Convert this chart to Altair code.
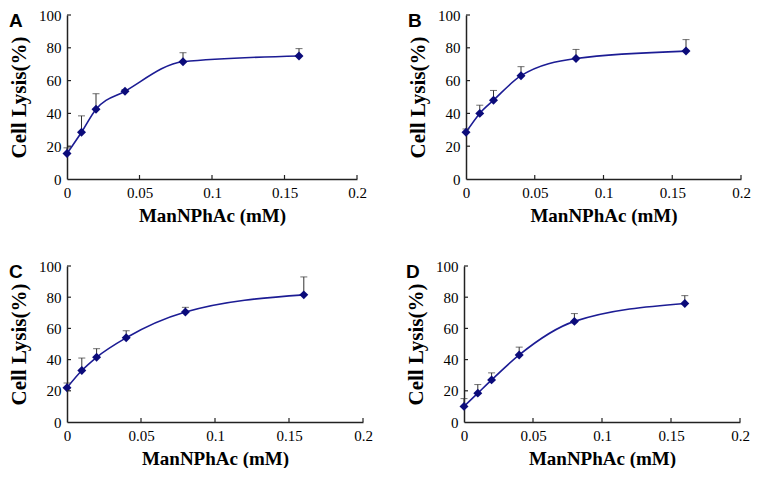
import altair as alt
import pandas as pd

CONC = [0, 0.01, 0.02, 0.04, 0.08, 0.16]

A_Y = [15.5, 28.5, 42.5, 53.5, 71.5, 75.0]
A_SD = [3.5, 10.0, 9.5, 1.0, 5.5, 4.5]
B_Y = [28.5, 40.0, 48.0, 63.0, 73.5, 78.0]
B_SD = [2.0, 5.0, 6.0, 5.5, 5.5, 7.0]
C_Y = [22.0, 33.0, 41.5, 54.0, 70.5, 81.5]
C_SD = [3.0, 8.0, 5.5, 4.5, 3.0, 11.5]
D_Y = [10.0, 18.5, 27.0, 43.0, 64.5, 76.0]
D_SD = [5.0, 5.5, 4.5, 5.0, 5.0, 5.0]

X_TICKS = [0, 0.05, 0.1, 0.15, 0.2]
Y_TICKS = [0, 20, 40, 60, 80, 100]

X_TITLE = "ManNPhAc (mM)"
Y_TITLE = "Cell Lysis(%)"

SERIF = "Liberation Serif"


def panel(letter, ys, sds, W, H):
    df = pd.DataFrame({"x": CONC, "y": ys, "sd": sds})
    xs = alt.Scale(domain=[0, 0.2], nice=False, zero=True)
    ysc = alt.Scale(domain=[0, 100], nice=False)
    xax = alt.Axis(
        values=X_TICKS, format="~g", title=X_TITLE, ticks=False,
        labelPadding=6, titlePadding=6, grid=False,
        labelFlush=False, labelOverlap=False,
    )
    yax = alt.Axis(
        values=Y_TICKS, format="d", title=Y_TITLE, ticks=False,
        labelPadding=6, titlePadding=9, grid=False,
        labelFlush=False, labelOverlap=False,
    )

    def X(f):
        return alt.X(f, scale=xs, axis=xax)

    def Y(f):
        return alt.Y(f, scale=ysc, axis=yax)

    base = alt.Chart(df).transform_calculate(hi="datum.y + datum.sd")
    line = base.mark_line(interpolate="monotone", color="#1c1c94", strokeWidth=1.6).encode(
        x=X("x:Q"), y=Y("y:Q")
    )
    err = base.mark_rule(color="#333333", strokeWidth=1).encode(
        x=X("x:Q"), y=Y("y:Q"), y2="hi:Q"
    )
    cap = base.mark_tick(color="#333333", thickness=1, size=7, orient="horizontal").encode(
        x=X("x:Q"), y=Y("hi:Q")
    )
    pts = base.mark_point(shape="diamond", filled=True, size=80, color="#0b0b7a", opacity=1).encode(
        x=X("x:Q"), y=Y("y:Q")
    )
    xt = alt.Chart(pd.DataFrame({"t": X_TICKS[1:]})).mark_rule(color="#222222", strokeWidth=1.2).encode(
        x=X("t:Q"), y=alt.value(H), y2=alt.value(H - 4)
    )
    yt = alt.Chart(pd.DataFrame({"t": Y_TICKS[1:]})).mark_rule(color="#222222", strokeWidth=1.2).encode(
        y=Y("t:Q"), x=alt.value(0), x2=alt.value(4)
    )
    lab = alt.Chart(pd.DataFrame({"t": [letter]})).mark_text(
        align="left", baseline="top", font="Liberation Sans", fontWeight="bold",
        fontSize=19, color="black",
    ).encode(x=alt.value(-58), y=alt.value(-3), text="t:N")
    return alt.layer(line, err, cap, pts, xt, yt, lab).properties(width=W, height=H)


pa = panel("A", A_Y, A_SD, 290, 164)
pb = panel("B", B_Y, B_SD, 275, 164)
pc = panel("C", C_Y, C_SD, 296, 156)
pd_ = panel("D", D_Y, D_SD, 276, 156)

chart = alt.vconcat(
    alt.hconcat(pa, pb, spacing=40),
    alt.hconcat(pc, pd_, spacing=32),
    spacing=34,
).configure_view(stroke=None).configure_axis(
    domainColor="#222222",
    domainWidth=1.5,
    labelFont=SERIF,
    labelFontSize=15,
    labelColor="black",
    titleFont=SERIF,
    titleFontSize=19,
    titleFontWeight="bold",
    titleColor="black",
).configure_axisY(titleFontSize=21).properties(padding=0, background="white")

chart.save("out.html", embed_options={"renderer": "svg", "actions": False})
